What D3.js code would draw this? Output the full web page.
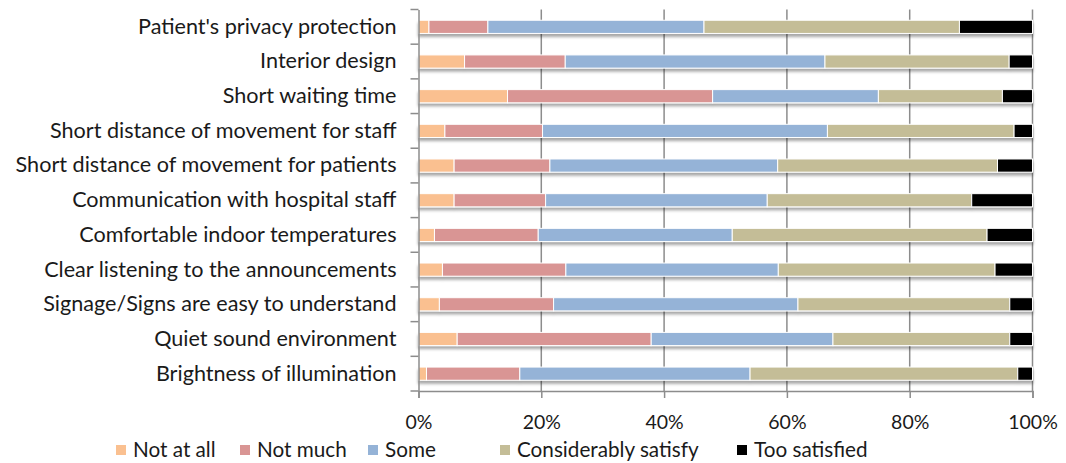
<!DOCTYPE html>
<html>
<head>
<meta charset="utf-8">
<script src="https://cdn.jsdelivr.net/npm/d3@7"></script>
<style>
  body { margin: 0; background: #fff; }
  svg { font-family: Lato, "Open Sans", sans-serif; }
</style>
</head>
<body>
<svg id="chart" width="1066" height="463"></svg>
<script>
// categories, top to bottom
const categories = [
  "Patient's privacy protection",
  "Interior design",
  "Short waiting time",
  "Short distance of movement for staff",
  "Short distance of movement for patients",
  "Communication with hospital staff",
  "Comfortable indoor temperatures",
  "Clear listening to the announcements",
  "Signage/Signs are easy to understand",
  "Quiet sound environment",
  "Brightness of illumination"
];
const seriesNames = ["Not at all", "Not much", "Some", "Considerably satisfy", "Too satisfied"];

// percent per series, same order as categories
const notAtAll     = [1.7, 7.5, 14.5, 4.3, 5.8, 5.8, 2.6, 3.9, 3.4, 6.3, 1.3];
const notMuch      = [9.6, 16.4, 33.4, 15.9, 15.6, 14.9, 16.9, 20.1, 18.6, 31.6, 15.2];
const some         = [35.2, 42.3, 27.0, 46.4, 37.1, 36.1, 31.6, 34.6, 39.8, 29.6, 37.5];
const considerably = [41.6, 30.0, 20.2, 30.4, 35.8, 33.3, 41.5, 35.3, 34.5, 28.8, 43.6];
const tooSatisfied = [11.9, 3.8, 4.9, 3.0, 5.7, 9.9, 7.4, 6.1, 3.7, 3.7, 2.4];
const xTicks = [0, 20, 40, 60, 80, 100];

const colors = ["#FAC090", "#D99594", "#95B3D7", "#C4BD97", "#000000"];

const rows = categories.map((c, i) => ({
  cat: c,
  "Not at all": notAtAll[i],
  "Not much": notMuch[i],
  "Some": some[i],
  "Considerably satisfy": considerably[i],
  "Too satisfied": tooSatisfied[i]
}));

const svg = d3.select("#chart");
const margin = {left: 418.5, right: 33.5, top: 9.5, bottom: 72};
const W = 1066, H = 463;

const x = d3.scaleLinear().domain([0, 100]).range([margin.left, W - margin.right]);
const y = d3.scaleBand().domain(categories).range([margin.top, H - margin.bottom]).paddingInner(0.62).paddingOuter(0.31);
const color = d3.scaleOrdinal().domain(seriesNames).range(colors);

// drop shadow for bars
const defs = svg.append("defs");
const f = defs.append("filter").attr("id", "shadow").attr("x", "-5%").attr("y", "-50%").attr("width", "110%").attr("height", "250%");
f.append("feDropShadow").attr("dx", 0).attr("dy", 3).attr("stdDeviation", 1.8)
  .attr("flood-color", "#000").attr("flood-opacity", 0.35);

// gridlines
svg.append("g").selectAll("line").data(xTicks.filter(d => d > 0)).join("line")
  .attr("x1", d => x(d)).attr("x2", d => x(d))
  .attr("y1", margin.top).attr("y2", H - margin.bottom)
  .attr("stroke", "#8c8c8c").attr("stroke-width", 1.5);

// stacked bars
const stack = d3.stack().keys(seriesNames)(rows);
svg.append("g").attr("filter", "url(#shadow)")
  .selectAll("g").data(stack).join("g")
  .attr("fill", d => color(d.key))
  .selectAll("rect").data(d => d).join("rect")
  .attr("x", d => x(d[0]))
  .attr("y", d => y(d.data.cat))
  .attr("width", d => x(d[1]) - x(d[0]))
  .attr("height", y.bandwidth())
  .attr("stroke", "#fff").attr("stroke-width", 1);

// x axis
const xAxis = svg.append("g").attr("transform", `translate(0,${H - margin.bottom})`)
  .call(d3.axisBottom(x).tickValues(xTicks).tickFormat(d => d + "%").tickSize(7).tickPadding(17));
xAxis.select(".domain").attr("stroke", "#8c8c8c").attr("stroke-width", 1.5);
xAxis.selectAll(".tick line").attr("stroke", "#8c8c8c").attr("stroke-width", 1.5);
xAxis.selectAll("text").attr("font-size", 19.5).attr("fill", "#1a1a1a").attr("font-family", "Lato, sans-serif");

// y axis
const yAxis = svg.append("g").attr("transform", `translate(${margin.left},0)`)
  .call(d3.axisLeft(y).tickSize(0).tickPadding(22));
yAxis.select(".domain").attr("stroke", "#8c8c8c").attr("stroke-width", 1.5);
yAxis.selectAll("text").attr("font-size", 21.6).attr("fill", "#1a1a1a").attr("font-family", "Lato, sans-serif");
// ticks between categories
svg.append("g").selectAll("line").data(d3.range(categories.length + 1)).join("line")
  .attr("x1", margin.left - 8).attr("x2", margin.left)
  .attr("y1", i => margin.top + i * y.step()).attr("y2", i => margin.top + i * y.step())
  .attr("stroke", "#8c8c8c").attr("stroke-width", 1.5);

// legend
const legendX = [116, 240, 368, 500, 737];
const lg = svg.append("g").selectAll("g").data(seriesNames).join("g")
  .attr("transform", (d, i) => `translate(${legendX[i]},450)`);
lg.append("rect").attr("x", 0).attr("y", -5).attr("width", 10).attr("height", 10).attr("fill", d => color(d));
lg.append("text").attr("x", 17).attr("dy", "0.35em").attr("font-size", 20.7).attr("fill", "#1a1a1a").text(d => d);
</script>
</body>
</html>
